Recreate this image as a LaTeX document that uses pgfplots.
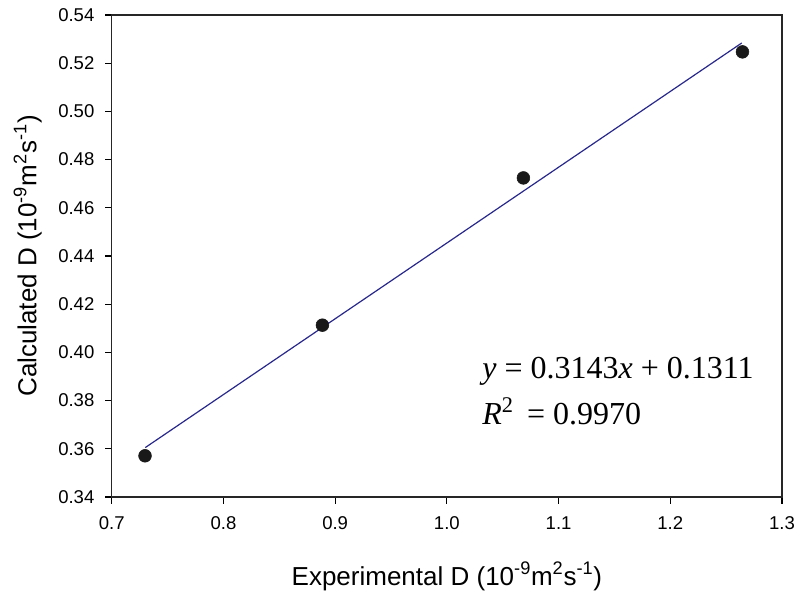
\documentclass[border=0pt]{standalone}
\usepackage{fontspec}
\setmainfont{Liberation Sans}
\newfontfamily\eqfont{Liberation Serif}
\usepackage{pgfplots}
\pgfplotsset{compat=1.18}

\definecolor{fitline}{RGB}{40,40,140}
\definecolor{dots}{RGB}{25,25,25}

\begin{document}
\begin{tikzpicture}
\begin{axis}[
    scale only axis,
    width=502.7pt,
    height=361.5pt,
    xmin=0.7, xmax=1.3,
    ymin=0.34, ymax=0.54,
    xtick={0.7,0.8,...,1.3},
    ytick={0.34,0.36,...,0.54},
    xtick pos=bottom,
    ytick pos=left,
    tick align=outside,
    major tick length=5pt,
    axis line style={black!85, line width=0.8pt},
    tick style={black, line width=0.8pt},
    /pgf/number format/assume math mode=true,
    xticklabel style={yshift=-6pt, /pgf/number format/.cd, fixed, fixed zerofill, precision=1},
    yticklabel style={xshift=-4.5pt, /pgf/number format/.cd, fixed, fixed zerofill, precision=2},
    tick label style={font=\fontsize{13.9}{16}\selectfont},
    label style={font=\fontsize{19.5}{22}\selectfont},
    xlabel={Experimental D (10\textsuperscript{-9}m\textsuperscript{2}s\textsuperscript{-1})},
    ylabel={Calculated D (10\textsuperscript{-9}m\textsuperscript{2}s\textsuperscript{-1})},
    xlabel style={at={(rel axis cs:0.5,0)}, anchor=base, yshift=-66pt},
    ylabel style={at={(rel axis cs:0,0.5)}, anchor=center, yshift=63pt},
    clip=false,
]
\addplot[fitline, line width=0.9pt] coordinates {
    (0.73,0.3605)
    (1.264,0.5284)
};
\addplot[only marks, mark=*, mark size=4.8pt, dots, mark options={draw=dots, fill=dots}] coordinates {
    (0.7298,0.3571)
    (0.8886,0.4113)
    (1.0685,0.4724)
    (1.2646,0.5247)
};
\node[anchor=base west, inner sep=0pt, font=\eqfont\fontsize{24}{28}\selectfont]
    at (axis cs:1.0315,0.3892) {\textit{y} = 0.3143\textit{x} + 0.1311};
\node[anchor=base west, inner sep=0pt, font=\eqfont\fontsize{24}{28}\selectfont]
    at (axis cs:1.0315,0.3700) {\textit{R}\textsuperscript{2}\, = 0.9970};
\end{axis}
\pgfresetboundingbox
\path[use as bounding box] ([shift={(-83.8pt,-72pt)}]current axis.south west)
    rectangle ([shift={(13.5pt,11.25pt)}]current axis.north east);
\end{tikzpicture}
\end{document}
